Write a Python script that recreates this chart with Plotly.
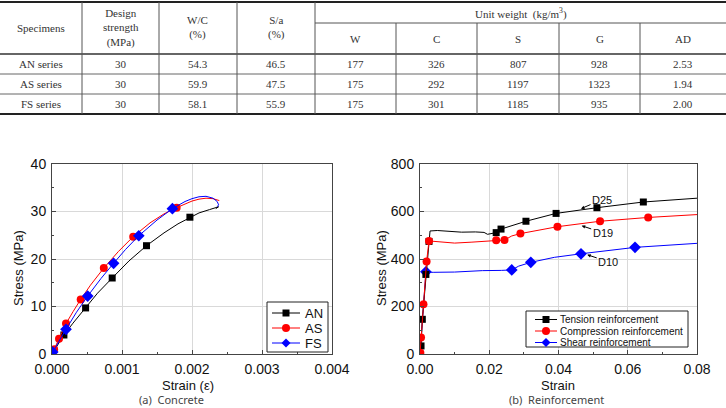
import plotly.graph_objects as go

W, H = 726, 408

# ---------------- table data ----------------
head_cols = ["Specimens", "Design<br>strength<br>(MPa)", "W/C<br>(%)", "S/a<br>(%)"]
unit_group = "Unit weight  (kg/m<sup>3</sup>)"
unit_cols = ["W", "C", "S", "G", "AD"]
specimens = ["AN series", "AS series", "FS series"]
design_strength = ["30", "30", "30"]
wc_ratio = ["54.3", "59.9", "58.1"]
sa_ratio = ["46.5", "47.5", "55.9"]
w_vals = ["177", "175", "175"]
c_vals = ["326", "292", "301"]
s_vals = ["807", "1197", "1185"]
g_vals = ["928", "1323", "935"]
ad_vals = ["2.53", "1.94", "2.00"]

# ---------------- (a) concrete ----------------
an_strain = [0, 0.00005, 0.00017, 0.0003, 0.00048, 0.00065, 0.00086, 0.0011, 0.00135,
             0.0016, 0.0018, 0.00197, 0.0021, 0.00225, 0.00238, 0.00234]
an_stress = [0, 1.1, 4.0, 6.5, 9.7, 12.8, 16.0, 19.6, 22.8, 25.5, 27.4, 28.8, 29.7, 30.4, 31.0, 30.6]
an_mk_strain = [0.00017, 0.00048, 0.00086, 0.00135, 0.00197]
an_mk_stress = [4.0, 9.7, 16.0, 22.8, 28.8]

as_strain = [0, 0.00003, 0.0001, 0.0002, 0.0003, 0.00041, 0.00055, 0.00074, 0.00095, 0.00116,
             0.0014, 0.0016, 0.00178, 0.0019, 0.002, 0.0021, 0.0022, 0.0023, 0.00239]
as_stress = [0, 1.0, 3.2, 6.4, 8.9, 11.5, 14.5, 18.1, 21.6, 24.7, 27.6, 29.5, 30.8, 31.6, 32.2,
             32.6, 32.8, 32.7, 32.3]
as_mk_strain = [0.00003, 0.0001, 0.0002, 0.00041, 0.00074, 0.00116, 0.00178]
as_mk_stress = [1.0, 3.2, 6.4, 11.5, 18.1, 24.7, 30.8]

fs_strain = [0, 0.00002, 0.0001, 0.0002, 0.00035, 0.00051, 0.0007, 0.00088, 0.00105, 0.00124,
             0.0015, 0.00172, 0.0019, 0.002, 0.0021, 0.0022, 0.0023, 0.00236, 0.00238, 0.00236]
fs_stress = [0, 0.6, 2.7, 5.2, 8.8, 12.2, 15.9, 19.1, 22.0, 24.9, 28.2, 30.6, 32.1, 32.7, 33.1,
             33.2, 32.8, 32.1, 31.4, 31.0]
fs_mk_strain = [0.00001, 0.0002, 0.00051, 0.00088, 0.00124, 0.00172]
fs_mk_stress = [0.4, 5.2, 12.2, 19.1, 24.9, 30.6]

# ---------------- (b) reinforcement ----------------
ten_strain = [0, 0.0003, 0.00067, 0.0017, 0.0026, 0.0029, 0.005, 0.008, 0.012, 0.016, 0.0185,
              0.0195, 0.0205, 0.022, 0.0234, 0.0306, 0.0393, 0.0465, 0.0511, 0.0645, 0.08]
ten_stress = [0, 34, 146, 335, 474, 518, 520, 518, 513, 514, 512, 504, 508, 511, 526, 559, 592,
              607, 616, 640, 656]
ten_mk_strain = [0.0003, 0.00067, 0.0017, 0.0026, 0.022, 0.0234, 0.0306, 0.0393, 0.0511, 0.0645]
ten_mk_stress = [34, 146, 335, 474, 511, 526, 559, 592, 616, 640]

com_strain = [0, 0.0003, 0.001, 0.0019, 0.0026, 0.005, 0.01, 0.015, 0.022, 0.0244, 0.0265,
              0.029, 0.0397, 0.052, 0.0659, 0.08]
com_stress = [0, 69, 209, 389, 476, 473, 467, 471, 479, 480, 497, 507, 536, 559, 575, 587]
com_mk_strain = [0.0001, 0.0003, 0.001, 0.0019, 0.0026, 0.022, 0.0244, 0.029, 0.0397, 0.052, 0.0659]
com_mk_stress = [5, 69, 209, 389, 476, 479, 480, 507, 536, 559, 575]

she_strain = [0, 0.0017, 0.004, 0.01, 0.018, 0.021, 0.0235, 0.0265, 0.0285, 0.032, 0.0388,
              0.0465, 0.0621, 0.08]
she_stress = [0, 344, 344, 345, 351, 350, 352, 354, 370, 386, 407, 422, 449, 466]
she_mk_strain = [0.0017, 0.0265, 0.032, 0.0465, 0.0621]
she_mk_stress = [346, 354, 386, 422, 449]

bar_labels = ["D25", "D19", "D10"]
bar_label_strain = [0.0465, 0.0467, 0.0483]
bar_label_stress = [612, 540, 418]


def px(x):
    return x / W


def py(y):
    return 1 - y / H


shapes = []
annotations = []

# ---------------- table drawing ----------------
col_edges = [0, 82, 159, 237, 315, 396, 477, 559, 640, 726]
y_top, y_group, y_head, y_rows, y_bot = 2, 23, 54, [74, 94], 114
tcol = "#333333"
tfont = dict(family="Liberation Serif, DejaVu Serif, serif", size=11, color=tcol)


def hline(x0, x1, y, w, c):
    shapes.append(dict(type="line", xref="paper", yref="paper", x0=px(x0), x1=px(x1),
                       y0=py(y), y1=py(y), line=dict(color=c, width=w)))


def vline(x, y0, y1, w, c):
    shapes.append(dict(type="line", xref="paper", yref="paper", x0=px(x), x1=px(x),
                       y0=py(y0), y1=py(y1), line=dict(color=c, width=w)))


hline(0, W, y_top, 2, "#222222")
hline(col_edges[4], W, y_group, 1, "#555555")
hline(0, W, y_head, 1.5, "#333333")
for yr in y_rows:
    hline(0, W, yr, 1, "#666666")
hline(0, W, y_bot, 2, "#222222")
for i, xe in enumerate(col_edges[1:-1], start=1):
    vline(xe, y_group if i >= 5 else y_top, y_bot, 1, "#555555")


def txt(x, y, s, font, **kw):
    d = dict(x=px(x), y=py(y), xref="paper", yref="paper", text=s, showarrow=False,
             font=font, xanchor="center", yanchor="middle")
    d.update(kw)
    annotations.append(d)


for i, hc in enumerate(head_cols):
    txt((col_edges[i] + col_edges[i + 1]) / 2, 28, hc, tfont)
txt((col_edges[4] + col_edges[-1]) / 2, 13, unit_group, tfont)
for j, uc in enumerate(unit_cols):
    txt((col_edges[4 + j] + col_edges[5 + j]) / 2, 39, uc, tfont)

row_centers = [64, 84, 104]
columns = [specimens, design_strength, wc_ratio, sa_ratio, w_vals, c_vals, s_vals, g_vals, ad_vals]
for ci, col in enumerate(columns):
    for ri, v in enumerate(col):
        txt((col_edges[ci] + col_edges[ci + 1]) / 2, row_centers[ri], v, tfont)

# ---------------- charts ----------------
fig = go.Figure()
sans = "Liberation Sans, Arial, sans-serif"


def add_series(xs, ys, mx, my, color, symbol, size, xa, ya):
    fig.add_trace(go.Scatter(x=xs, y=ys, mode="lines", line=dict(color=color, width=1),
                             xaxis=xa, yaxis=ya, showlegend=False, hoverinfo="skip"))
    fig.add_trace(go.Scatter(x=mx, y=my, mode="markers",
                             marker=dict(color=color, symbol=symbol, size=size, line=dict(width=0)),
                             xaxis=xa, yaxis=ya, showlegend=False))


add_series(an_strain, an_stress, an_mk_strain, an_mk_stress, "#000000", "square", 7, "x", "y")
add_series(as_strain, as_stress, as_mk_strain, as_mk_stress, "#ff0000", "circle", 8, "x", "y")
add_series(fs_strain, fs_stress, fs_mk_strain, fs_mk_stress, "#0000ff", "diamond", 9, "x", "y")

add_series(she_strain, she_stress, she_mk_strain, she_mk_stress, "#0000ff", "diamond", 9, "x2", "y2")
add_series(ten_strain, ten_stress, ten_mk_strain, ten_mk_stress, "#000000", "square", 7, "x2", "y2")
add_series(com_strain, com_stress, com_mk_strain, com_mk_stress, "#ff0000", "circle", 8, "x2", "y2")

plot_a = (52, 332)
plot_b = (420, 697)
plot_y = (164, 354)
ydom = [py(plot_y[1]), py(plot_y[0])]
tickfont = dict(family=sans, size=14, color="#111111")
axcol = "#444444"
gridcol = "#d9d9d9"


def main_axis(dom, rng, dtick, mdtick, fmt=None, anchor=None):
    d = dict(domain=dom, range=rng, dtick=dtick, tick0=0, ticks="inside", ticklen=4,
             tickcolor=axcol, showline=True, linecolor=axcol, linewidth=1, mirror=True,
             showgrid=True, gridcolor=gridcol, gridwidth=1, zeroline=False, automargin=False,
             tickfont=tickfont, anchor=anchor, fixedrange=True, ticklabelstandoff=2,
             minor=dict(dtick=mdtick, tick0=0, ticks="inside", ticklen=2, tickcolor=axcol,
                        showgrid=False))
    if fmt:
        d["tickformat"] = fmt
    return d


def over_axis(over, rng, dtick, mdtick, side, anchor):
    return dict(overlaying=over, side=side, anchor=anchor, range=rng, dtick=dtick, tick0=0,
                ticks="inside", ticklen=4, tickcolor=axcol, showticklabels=False,
                showgrid=False, showline=False, zeroline=False, fixedrange=True, automargin=False,
                minor=dict(dtick=mdtick, tick0=0, ticks="inside", ticklen=2, tickcolor=axcol,
                           showgrid=False))


fig.update_layout(
    template="none",
    xaxis=main_axis([px(plot_a[0]), px(plot_a[1])], [0, 0.004], 0.001, 0.0005, ".3f", "y"),
    yaxis=main_axis(ydom, [0, 40], 10, 5, None, "x"),
    xaxis2=main_axis([px(plot_b[0]), px(plot_b[1])], [0, 0.08], 0.02, 0.01, ".2f", "y2"),
    yaxis2=main_axis(ydom, [0, 800], 200, 100, None, "x2"),
    xaxis3=over_axis("x", [0, 0.004], 0.001, 0.0005, "top", "y"),
    yaxis3=over_axis("y", [0, 40], 10, 5, "right", "x"),
    xaxis4=over_axis("x2", [0, 0.08], 0.02, 0.01, "top", "y2"),
    yaxis4=over_axis("y2", [0, 800], 200, 100, "right", "x2"),
)

# axis titles & captions
title_font = dict(family=sans, size=13, color="#111111")
cap_font = dict(family="Noto Sans, Liberation Sans, sans-serif", size=11, color="#444444")
txt(18, 268, "Stress (MPa)", title_font, textangle=-90)
txt(381, 268, "Stress (MPa)", title_font, textangle=-90)
txt(188, 385, "Strain (ε)", title_font)
txt(558, 385, "Strain", title_font)
txt(171, 399.5, "(a)  Concrete", cap_font)
txt(556, 399.5, "(b)  Reinforcement", cap_font)

# bar size labels with arrows
for lab, sx, sy, (ax, ay) in zip(bar_labels, bar_label_strain, bar_label_stress,
                                 [(21, -9), (21, 7), (21, 7)]):
    annotations.append(dict(x=sx, y=sy, xref="x2", yref="y2", text=lab, showarrow=True,
                            ax=ax, ay=ay, arrowhead=2, arrowsize=0.7, arrowwidth=1,
                            arrowcolor="#000000", standoff=0,
                            font=dict(family=sans, size=11, color="#111111")))


# manual legends
def marker_shape(cx, cy, symbol, size, color):
    r = size / 2
    if symbol == "square":
        shapes.append(dict(type="rect", xref="paper", yref="paper", x0=px(cx - r), x1=px(cx + r),
                           y0=py(cy + r), y1=py(cy - r), fillcolor=color, line=dict(width=0)))
    elif symbol == "circle":
        shapes.append(dict(type="circle", xref="paper", yref="paper", x0=px(cx - r), x1=px(cx + r),
                           y0=py(cy + r), y1=py(cy - r), fillcolor=color, line=dict(width=0)))
    else:
        path = "M {} {} L {} {} L {} {} L {} {} Z".format(
            px(cx), py(cy - r), px(cx + r), py(cy), px(cx), py(cy + r), px(cx - r), py(cy))
        shapes.append(dict(type="path", xref="paper", yref="paper", path=path,
                           fillcolor=color, line=dict(width=0)))


def draw_legend(box, ys, lx0, lx1, tx, names, colors, symbols, sizes, fsize):
    shapes.append(dict(type="rect", xref="paper", yref="paper", x0=px(box[0]), x1=px(box[1]),
                       y0=py(box[3]), y1=py(box[2]), line=dict(color="#222222", width=1),
                       fillcolor="white"))
    for yy, nm, c, s, sz in zip(ys, names, colors, symbols, sizes):
        hline(lx0, lx1, yy, 1, c)
        marker_shape((lx0 + lx1) / 2, yy, s, sz, c)
        annotations.append(dict(x=px(tx), y=py(yy), xref="paper", yref="paper", text=nm,
                                showarrow=False, xanchor="left", yanchor="middle",
                                font=dict(family=sans, size=fsize, color="#111111")))


draw_legend((267, 328, 302, 352), [313, 328, 343], 272, 300, 303,
            ["AN", "AS", "FS"], ["#000000", "#ff0000", "#0000ff"],
            ["square", "circle", "diamond"], [7, 8, 9], 13)
draw_legend((526, 688, 311, 347), [319.5, 331, 342.5], 535, 557, 558,
            ["Tension reinforcement", "Compression reinforcement", "Shear reinforcement"],
            ["#000000", "#ff0000", "#0000ff"], ["square", "circle", "diamond"], [7, 8, 9], 10)

fig.update_layout(
    width=W, height=H, autosize=False,
    margin=dict(l=0, r=0, t=0, b=0, pad=0),
    paper_bgcolor="white", plot_bgcolor="white",
    showlegend=False,
    shapes=shapes, annotations=annotations,
)

fig.write_html("out.html", config={"displayModeBar": False})
